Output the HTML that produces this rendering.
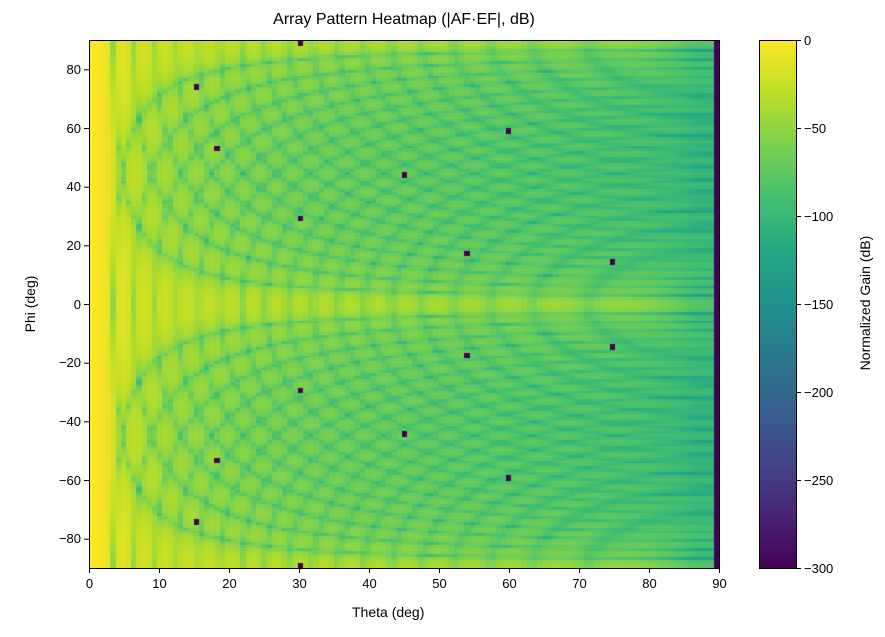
<!DOCTYPE html>
<html><head><meta charset="utf-8"><style>
body{margin:0;background:#fff;width:885px;height:637px;overflow:hidden;position:relative;font-family:"Liberation Sans","DejaVu Sans",sans-serif;color:#000}
.t{position:absolute;font-size:13px;white-space:nowrap}
#c{position:absolute;left:89px;top:40px}
</style></head><body>
<canvas id="c" width="630" height="528"></canvas>
<svg width="885" height="637" style="position:absolute;left:0;top:0" id="s"></svg>
<div class="t" style="left:0;width:808px;text-align:center;top:11px;font-size:16px">Array Pattern Heatmap (|AF·EF|, dB)</div>
<div class="t" style="left:352px;top:604px;font-size:14px">Theta (deg)</div>
<div class="t" style="left:-10px;top:296px;font-size:14px;transform:rotate(-90deg);width:80px;text-align:center">Phi (deg)</div>
<div class="t" style="left:790px;top:295px;font-size:14px;transform:rotate(-90deg);width:150px;text-align:center">Normalized Gain (dB)</div>
<div id="lab"></div>
<script>
const V=[[68,1,84],[72,36,117],[65,68,135],[53,95,141],[42,120,142],[33,145,140],[34,168,132],[68,191,112],[122,209,81],[189,223,38],[253,231,37]];
function cm(t){t=Math.max(0,Math.min(1,t))*10;const i=Math.min(9,Math.floor(t)),f=t-i;return V[i].map((a,k)=>Math.round(a+(V[i+1][k]-a)*f));}
const N=38;
function af(u){const x=Math.PI*u/2;let r;if(Math.abs(Math.sin(x))<1e-9)r=1;else r=Math.abs(Math.sin(N*x)/(N*Math.sin(x)));return Math.max(r,0.005);}
const NT=121,NP=181,TS=0.75,PS=1;const val=[];
const dots=[[30,90],[30,-90],[45,45],[45,-45],[60,60],[60,-60],[75,15],[75,-15],[15,75],[15,-75],[18,54],[18,-54],[30,30],[30,-30],[54,18],[54,-18]];
const r=Math.PI/180;
for(let j=0;j<NP;j++){val[j]=[];const ph=90-j*PS;for(let i=0;i<NT;i++){const th=i*TS;const u=Math.sin(th*r)*Math.cos(ph*r),v=Math.sin(th*r)*Math.sin(ph*r);
let db;if(i==NT-1)db=-300;else{let a=af(u)*af(v)*Math.max(0.05,Math.cos(th*r));db=1.1*20*Math.log10(a);if(db<-300)db=-300;}val[j][i]=db;}}
for(const[t,p]of dots){const i=Math.round(t/TS),j=Math.round((90-p)/PS);for(const dj of [0,p>0?1:-1]){const jj=j+dj;if(val[jj]&&val[jj][i]!==undefined)val[jj][i]=-300;}}
const c=document.getElementById('c').getContext('2d');const im=c.createImageData(630,528);
for(let y=0;y<528;y++){const j=Math.min(NP-1,Math.floor(y*NP/528));for(let x=0;x<630;x++){const i=Math.min(NT-1,Math.floor(x*NT/630));const col=cm((val[j][i]+300)/300);const o=(y*630+x)*4;im.data[o]=col[0];im.data[o+1]=col[1];im.data[o+2]=col[2];im.data[o+3]=255;}}
c.putImageData(im,0,0);
let s='<rect x="89.5" y="40.5" width="630" height="528" fill="none" stroke="#000"/>';
s+='<defs><linearGradient id="g" x1="0" y1="1" x2="0" y2="0">'+V.map((v,k)=>`<stop offset="${k/10}" stop-color="rgb(${v})"/>`).join('')+'</linearGradient></defs>';
s+='<rect x="759" y="40" width="37" height="528" fill="url(#g)"/><rect x="759.5" y="40.5" width="37" height="528" fill="none" stroke="#000"/>';
let L='';
for(let t=0;t<=90;t+=10){const x=89.5+t*7;s+=`<line x1="${x}" y1="568" x2="${x}" y2="573" stroke="#000"/>`;L+=`<div class="t" style="left:${x-20}px;width:40px;text-align:center;top:576px">${t}</div>`;}
for(let p=-80;p<=80;p+=20){const y=40.5+(90-p)*528/180;s+=`<line x1="84" y1="${y}" x2="89" y2="${y}" stroke="#000"/>`;L+=`<div class="t" style="left:30px;width:51px;text-align:right;top:${y-8}px">${p<0?'−'+(-p):p}</div>`;}
for(let d=0;d>=-300;d-=50){const y=40.5+(-d)*528/300;s+=`<line x1="796" y1="${y}" x2="801" y2="${y}" stroke="#000"/>`;L+=`<div class="t" style="left:804px;top:${y-8}px">${d<0?'−'+(-d):d}</div>`;}
document.getElementById('s').innerHTML=s;document.getElementById('lab').innerHTML=L;
</script>
</body></html>
